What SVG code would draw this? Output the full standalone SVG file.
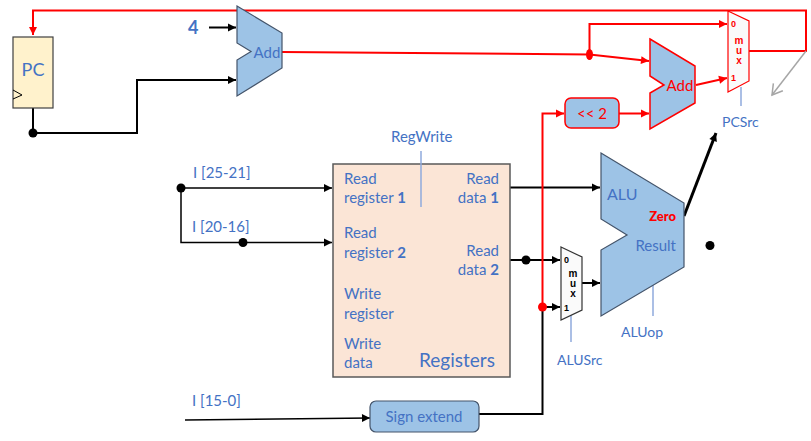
<svg xmlns="http://www.w3.org/2000/svg" width="811" height="441" viewBox="0 0 811 441">
<defs>
<marker id="ab" markerUnits="userSpaceOnUse" markerWidth="10" markerHeight="10" refX="9" refY="5" orient="auto"><path d="M1 1L9 5L1 9Z" fill="#000"/></marker>
<marker id="ar" markerUnits="userSpaceOnUse" markerWidth="10" markerHeight="10" refX="9" refY="5" orient="auto"><path d="M1 1L9 5L1 9Z" fill="#f00"/></marker>
<marker id="ag" markerUnits="userSpaceOnUse" markerWidth="14" markerHeight="14" refX="12" refY="7" orient="auto"><path d="M2 1L12 7L2 13" fill="none" stroke="#a6a6a6" stroke-width="1.5"/></marker>
</defs>
<style>
text{font-family:Lato,"Liberation Sans",sans-serif;fill:#4472c4;font-size:15px}
.b{font-weight:700}
.e{text-anchor:end}
.m{text-anchor:middle}
.blk{fill:none;stroke:#000;stroke-width:2}
.thin{fill:none;stroke:#000;stroke-width:1.5}
.red{fill:none;stroke:#f00;stroke-width:2}
.ctl{fill:none;stroke:#8faadc;stroke-width:1.5}
.unit{fill:#9dc3e6;stroke:#44546a;stroke-width:1.2}
.hot{fill:#9dc3e6;stroke:#f00;stroke-width:1.5}
.mux{fill:#fafafa;stroke:#333;stroke-width:1.2}
.mt{font-family:"Liberation Sans",Arial,sans-serif;font-weight:700;fill:#000;font-size:10px;text-anchor:middle}
.mk{font-family:"Liberation Sans",Arial,sans-serif;font-weight:700;fill:#000;font-size:9px}
.s{font-size:14px}
</style>
<g id="connectors">
<path class="red" d="M748 51H806V10.500H33V35" marker-end="url(#ar)"/>
<path d="M806 51L772 95" fill="none" stroke="#a6a6a6" stroke-width="1.500" marker-end="url(#ag)"/>
<path class="blk" d="M209 27.500H236" marker-end="url(#ab)"/>
<path class="blk" d="M33 108V133H137V80H236" marker-end="url(#ab)"/>
<circle cx="33" cy="133" r="4.500" fill="#000"/>
<path class="red" d="M282 52L589.500 54.500V24H727" marker-end="url(#ar)"/>
<path class="red" d="M589.500 54.500L649 61" marker-end="url(#ar)"/>
<ellipse cx="589.500" cy="54.500" rx="3.500" ry="5.500" fill="#f00"/>
<path class="red" d="M696 85L727 78" marker-end="url(#ar)"/>
<path class="red" d="M619 113.500H649" marker-end="url(#ar)"/>
<path class="blk" d="M510 187.500H600" marker-end="url(#ab)"/>
<path class="blk" d="M510 260H560" marker-end="url(#ab)"/>
<circle cx="526" cy="260" r="4.500" fill="#000"/>
<path class="blk" d="M582 283H600" marker-end="url(#ab)"/>
<path class="blk" d="M479 414H542.500V307H560" marker-end="url(#ab)"/>
<path class="red" d="M542.500 307V113.500H564" marker-end="url(#ar)"/>
<circle cx="542.500" cy="307" r="4.500" fill="#f00"/>
<path d="M684 216L716 133" fill="none" stroke="#000" stroke-width="3" marker-end="url(#ab)"/>
<path class="thin" d="M181 188H332" marker-end="url(#ab)"/>
<path class="thin" d="M181 188V242.500H332" marker-end="url(#ab)"/>
<circle cx="181" cy="188" r="4.500" fill="#000"/>
<circle cx="243" cy="242.500" r="4.500" fill="#000"/>
<path class="thin" d="M185 420L370 418" marker-end="url(#ab)"/>
<path class="ctl" d="M741 87V106"/>
<path class="ctl" d="M571 315V342"/>
<path class="ctl" d="M653 285V316"/>
</g>
<g id="pc">
<rect x="13" y="37" width="40" height="71" fill="#fff2cc" stroke="#404040" stroke-width="1.200"/>
<path d="M13 90L22 95L13 99" fill="none" stroke="#000"/>
<text x="33" y="76" class="m" style="font-size:18px">PC</text>
</g>
<g id="four"><text x="188" y="34" class="b" style="font-size:18px">4</text></g>
<g id="add1">
<path class="unit" d="M237 6L282 33V68L237 96V60L251 51.500L237 43Z"/>
<text x="267" y="58" class="m">Add</text>
</g>
<g id="add2">
<path class="hot" d="M650 39L695 66V103L650 129V93L664 85L650 76Z"/>
<text x="680" y="91" class="m" style="fill:#f00;font-size:15px">Add</text>
</g>
<g id="shift">
<rect x="565" y="98" width="54" height="30" rx="6" class="hot"/>
<text x="592" y="119" class="m" style="fill:#f00;font-size:15px">&lt;&lt; 2</text>
</g>
<g id="pcmux">
<path d="M728 11L749 21V81L728 92Z" fill="#fafafa" stroke="#f00" stroke-width="1.200"/>
<text x="731" y="27" class="mk" style="fill:#f00">0</text>
<text x="739" y="44" class="mt" style="fill:#f00">m</text>
<text x="739" y="54" class="mt" style="fill:#f00">u</text>
<text x="739" y="64" class="mt" style="fill:#f00">x</text>
<text x="731" y="81" class="mk" style="fill:#f00">1</text>
</g>
<g id="pcsrc"><text x="722" y="127" class="s">PCSrc</text></g>
<g id="registers">
<rect x="333" y="164" width="177" height="213" fill="#fbe5d6" stroke="#595959" stroke-width="1.500"/>
<text x="344" y="184">Read</text>
<text x="344" y="203">register <tspan class="b">1</tspan></text>
<text x="344" y="238">Read</text>
<text x="344" y="258">register <tspan class="b">2</tspan></text>
<text x="344" y="299">Write</text>
<text x="344" y="319">register</text>
<text x="344" y="349">Write</text>
<text x="344" y="368">data</text>
<text x="499" y="184" class="e">Read</text>
<text x="499" y="203" class="e">data <tspan class="b">1</tspan></text>
<text x="499" y="256" class="e">Read</text>
<text x="499" y="275" class="e">data <tspan class="b">2</tspan></text>
<text x="419" y="367" style="font-size:19px">Registers</text>
</g>
<g id="regwrite">
<path class="ctl" d="M421 151V207"/>
<text x="391" y="142">RegWrite</text>
</g>
<g id="inputs">
<text x="193" y="178">I [25-21]</text>
<text x="192" y="232">I [20-16]</text>
<text x="192" y="406">I [15-0]</text>
</g>
<g id="signext">
<rect x="370" y="401" width="109" height="31" rx="6" class="unit"/>
<text x="424" y="422" class="m">Sign extend</text>
</g>
<g id="alu">
<path class="unit" d="M601 153L684 203V267L601 316V250L627 235L601 219Z"/>
<text x="607" y="200" style="font-size:16px">ALU</text>
<text x="676" y="221" class="e b" style="fill:#f00;font-size:13px;font-weight:900">Zero</text>
<text x="676" y="251" class="e">Result</text>
</g>
<g id="alumux">
<path class="mux" d="M561 247L582 257V310L561 320Z"/>
<text x="564" y="263" class="mk">0</text>
<text x="573" y="277" class="mt">m</text>
<text x="573" y="287" class="mt">u</text>
<text x="573" y="297" class="mt">x</text>
<text x="564" y="311" class="mk">1</text>
</g>
<g id="alusrc"><text x="557" y="365" class="s">ALUSrc</text></g>
<g id="aluop"><text x="621" y="337" class="s">ALUop</text></g>
<g id="dot"><circle cx="710" cy="245.500" r="4.500" fill="#000"/></g>
</svg>
